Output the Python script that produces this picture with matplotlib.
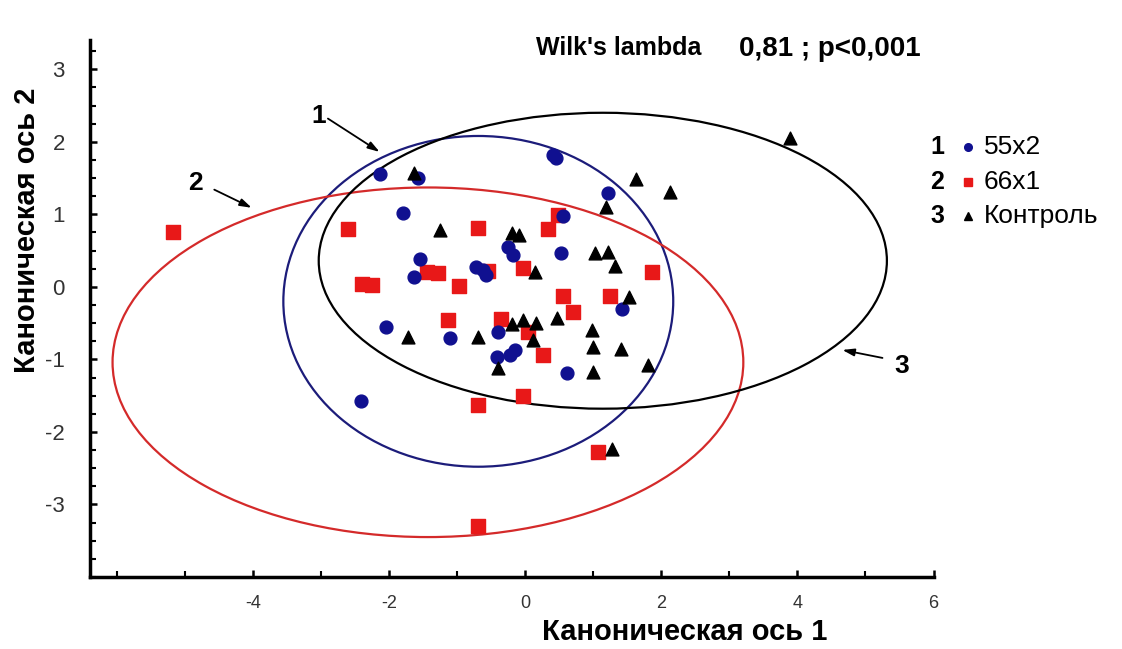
import matplotlib.pyplot as plt
from matplotlib.patches import Ellipse
from matplotlib.ticker import MultipleLocator

plt.rcParams['font.family'] = ['Liberation Sans', 'DejaVu Sans']
plt.rcParams['axes.unicode_minus'] = False

# group 1: 55x2 (blue circles)
g1_x = [-2.13, -1.58, -1.80, 0.41, 0.45, 1.22, 0.56, 0.53, -0.26, -0.18, -1.55, -1.64,
        -0.73, -0.62, -0.57, 1.42, -2.05, -1.10, -0.40, -0.41, -0.22, -0.15, 0.62, -2.42]
g1_y = [1.56, 1.50, 1.02, 1.82, 1.77, 1.30, 0.98, 0.47, 0.55, 0.44, 0.39, 0.14,
        0.28, 0.23, 0.17, -0.30, -0.55, -0.70, -0.62, -0.97, -0.94, -0.87, -1.19, -1.57]

# group 2: 66x1 (red squares)
g2_x = [-5.18, -2.61, -2.40, -2.25, -1.45, -1.28, -0.98, -0.70, -0.55, -0.04, 0.34, 0.48,
        1.86, 0.56, 1.25, 0.70, -1.13, -0.35, 0.04, 0.26, -0.04, -0.70, 1.07, -0.69]
g2_y = [0.76, 0.80, 0.04, 0.03, 0.21, 0.19, 0.01, 0.81, 0.22, 0.26, 0.80, 0.99,
        0.21, -0.12, -0.12, -0.34, -0.46, -0.44, -0.62, -0.94, -1.50, -1.63, -2.28, -3.30]

# group 3: control (black triangles)
g3_x = [-1.64, -1.26, -0.19, -0.09, 1.63, 2.13, 1.19, 1.03, 1.22, 1.32, 0.15, 1.53, 0.47,
        -0.19, -0.03, 0.16, 0.98, -1.73, -0.70, 0.12, 1.00, 1.41, -0.40, 1.00, 1.80, 1.28, 3.89]
g3_y = [1.57, 0.79, 0.74, 0.72, 1.49, 1.31, 1.10, 0.47, 0.48, 0.29, 0.21, -0.14, -0.43,
        -0.51, -0.46, -0.50, -0.59, -0.69, -0.69, -0.73, -0.83, -0.86, -1.12, -1.18, -1.08, -2.24, 2.05]

# confidence ellipses: center, full width, full height
ell_cx = [-0.69, -1.43, 1.14]
ell_cy = [-0.20, -1.04, 0.36]
ell_w = [5.73, 9.27, 8.35]
ell_h = [4.56, 4.82, 4.08]
ell_colors = ['#1c1c7a', '#d42a2a', 'black']

# ellipse labels: text position, arrow tail, arrow tip
lab_txt = ['1', '2', '3']
lab_pos = [(-3.04, 2.36), (-4.84, 1.43), (5.54, -1.09)]
lab_tail = [(-2.90, 2.32), (-4.57, 1.34), (5.25, -0.98)]
lab_tip = [(-2.14, 1.86), (-4.02, 1.09), (4.66, -0.87)]

fig = plt.figure(figsize=(11.22, 6.49), dpi=100)
ax = fig.add_axes([0.080, 0.111, 0.752, 0.827])

for cx, cy, w, h, c in zip(ell_cx, ell_cy, ell_w, ell_h, ell_colors):
    ax.add_patch(Ellipse((cx, cy), w, h, fill=False, edgecolor=c, lw=1.6))

ax.scatter(g2_x, g2_y, marker='s', s=90, color='#e81818', zorder=3)
ax.scatter(g1_x, g1_y, marker='o', s=85, color='#101090', zorder=3)
ax.scatter(g3_x, g3_y, marker='^', s=85, color='black', zorder=3)

ax.set_xlim(-6.4, 6.0)
ax.set_ylim(-4.0, 3.4)
ax.set_xticks([-4, -2, 0, 2, 4, 6])
ax.set_yticks([-3, -2, -1, 0, 1, 2, 3])
ax.xaxis.set_minor_locator(MultipleLocator(1))
ax.yaxis.set_minor_locator(MultipleLocator(0.25))
ax.tick_params(axis='both', direction='in', width=1.8, length=5, colors='black',
               labelcolor='#333333')
ax.tick_params(axis='both', which='minor', direction='in', width=1.5, length=4)
ax.tick_params(axis='x', labelsize=13, pad=13)
ax.tick_params(axis='y', labelsize=16, pad=18)
for s in ['top', 'right']:
    ax.spines[s].set_visible(False)
for s in ['left', 'bottom']:
    ax.spines[s].set_linewidth(2.5)

for t, p, tail, tip in zip(lab_txt, lab_pos, lab_tail, lab_tip):
    ax.text(p[0], p[1], t, fontsize=19, fontweight='bold', ha='center', va='center')
    ax.annotate('', xy=tip, xytext=tail, annotation_clip=False,
                arrowprops=dict(arrowstyle='-|>,head_length=0.7,head_width=0.22',
                                color='black', lw=1.3, shrinkA=0, shrinkB=0))

fig.text(0.478, 0.926, "Wilk's lambda", fontsize=18, fontweight='bold', va='center')
fig.text(0.659, 0.924, "0,81 ; p<0,001", fontsize=20, fontweight='bold', va='center')

# legend drawn by hand
leg_y = [0.773, 0.720, 0.667]
leg_num = ['1', '2', '3']
leg_lab = ['55x2', '66x1', 'Контроль']
leg_mk = ['o', 's', '^']
leg_col = ['#101090', '#e81818', 'black']
for yy, n, lab, mk, c in zip(leg_y, leg_num, leg_lab, leg_mk, leg_col):
    fig.text(0.829, yy, n, fontsize=18, fontweight='bold', va='center')
    fig.lines.append(plt.Line2D([0.863], [yy], marker=mk, color=c, markersize=5.5,
                                transform=fig.transFigure))
    fig.text(0.877, yy, lab, fontsize=19, va='center')

fig.text(0.610, 0.026, 'Каноническая ось 1', fontsize=21, fontweight='bold',
         ha='center', va='center')
fig.text(0.024, 0.645, 'Каноническая ось 2', fontsize=21, fontweight='bold',
         ha='center', va='center', rotation=90)

plt.savefig('out.png', dpi=100)
